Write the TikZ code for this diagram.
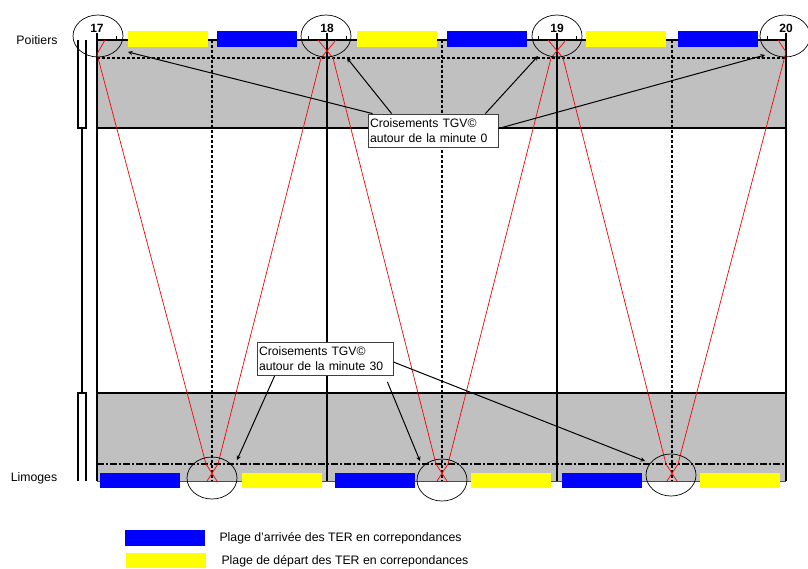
\documentclass[tikz,border=0pt]{standalone}
\usepackage{fontspec}
\setmainfont{Liberation Sans}
\usetikzlibrary{shapes.geometric}
\definecolor{plagebleu}{RGB}{0,0,255}
\definecolor{plagejaune}{RGB}{255,255,0}
\definecolor{zonegris}{RGB}{192,192,192}
\tikzset{
    heure/.style={line width=2.5pt},
    demi/.style={line width=2.5pt, dash pattern=on 3pt off 2pt},
    croix/.style={red, line width=0.7pt},
    cercle/.style={ellipse, draw, line width=0.7pt, minimum width=50pt, minimum height=42pt, inner sep=0pt},
    bulle/.style={draw=black!75, fill=white, line width=0.8pt, align=left, inner sep=2pt,
        minimum height=33pt, font=\fontsize{12.2}{15}\selectfont},
    texte/.style={font=\fontsize{12.3}{14}\selectfont}
}
\begin{document}
\begin{tikzpicture}[>=stealth, x=1pt, y=-1pt]
        \useasboundingbox (0,0) rectangle (808,568);
        % zones grises
        \fill[zonegris] (97,40) rectangle (786,128);
        \fill[zonegris] (97,393) rectangle (786,481);
        \draw[line width=2pt, dash pattern=on 3pt off 2pt] (97,58) -- (786,58);
        \draw[line width=2pt, dash pattern=on 7pt off 2pt on 2pt off 2pt] (97,464) -- (786,464);
        \draw[line width=2.5pt] (97,128) -- (786,128);
        \draw[line width=1.5pt] (97,393) -- (786,393);
        \draw[line width=1pt, black!70] (97,481) -- (786,481);
        % barre de gauche
        \draw[line width=2pt] (78,40) -- (78,128) -- (86,128) -- (86,40);
        \draw[line width=2pt] (82,128) -- (82,393);
        \draw[line width=2pt] (78,481) -- (78,393) -- (86,393) -- (86,481);
        % heures et demi-heures
        \foreach \x in {212,442,672}
        \draw[demi] (\x,40) -- (\x,481);
        \draw[line width=2.5pt] (97,40) -- (786,40);
        \foreach \h/\x in {17/97,18/327,19/557,20/786} {
            \draw[heure] (\x,33) -- (\x,481);
            \node[texte, font=\fontsize{12}{14}\bfseries, anchor=base] (h\h) at (\x,32) {\h};
        }
        \foreach \x in {116,308,346,538,576,767}
        \draw[line width=0.8pt] (\x,36) -- (\x,40);
        % trains
        \draw[croix] (105,40) -- (97,54) -- (206,464) -- (217,481);
        \draw[croix] (336,40) -- (321,58) -- (218,464) -- (207,481);
        \draw[croix] (318,40) -- (333,58) -- (436,464) -- (447,481);
        \draw[croix] (566,40) -- (551,58) -- (448,464) -- (437,481);
        \draw[croix] (548,40) -- (563,58) -- (666,464) -- (677,481);
        \draw[croix] (778,40) -- (786,52) -- (678,464) -- (667,481);
        % plages
        \foreach \x in {128,357,586}
        \fill[plagejaune] (\x,31) rectangle ++(80,16);
        \foreach \x in {217,447,678}
        \fill[plagebleu] (\x,31) rectangle ++(80,16);
        \foreach \x in {100,335,562}
        \fill[plagebleu] (\x,473) rectangle ++(80,15);
        \foreach \x in {242,471,700}
        \fill[plagejaune] (\x,473) rectangle ++(80,15);
        % croisements
        \node[cercle] (e17) at (98,36) {};
        \node[cercle] (e18) at (326,36) {};
        \node[cercle] (e19) at (557,36) {};
        \node[cercle] (e20) at (785,36) {};
        \node[cercle] (e1730) at (212,478) {};
        \node[cercle] (e1830) at (442,480) {};
        \node[cercle] (e1930) at (671,475) {};
        \node[texte] (poitiers) at (37,40) {Poitiers};
        \node[texte] (limoges) at (34,478) {Limoges};
        % bulles
        \node[bulle, text width=126pt] (c0) at (433,130.5) {Croisements TGV©\\autour de la minute 0};
        \node[bulle, text width=132pt] (c30) at (325,359) {Croisements TGV©\\autour de la minute 30};
        \coordinate (a17) at (128,52);
        \coordinate (a18) at (347,58);
        \coordinate (a19) at (538,56);
        \coordinate (a20) at (765,55);
        \coordinate (a1730) at (237,460);
        \coordinate (a1830) at (420,461);
        \coordinate (a1930) at (645,461);
        \draw[->, line width=1pt] ([xshift=5pt]c0.north west) -- (a17);
        \draw[->, line width=1pt] ([xshift=24pt]c0.north west) -- (a18);
        \draw[->, line width=1pt] ([xshift=-13pt]c0.north east) -- (a19);
        \draw[->, line width=1pt] ([yshift=2pt]c0.east) -- (a20);
        \draw[->, line width=1pt] ([xshift=18pt]c30.south west) -- (a1730);
        \draw[->, line width=1pt] ([xshift=-6pt,yshift=-6pt]c30.south east) -- (a1830);
        \draw[->, line width=1pt] ([yshift=-3pt]c30.east) -- (a1930);
        % legende
        \fill[plagebleu] (125,530) rectangle (205,546);
        \fill[plagejaune] (126,553) rectangle (206,568);
        \node[texte, anchor=west] (l1) at (216,538) {Plage d'arrivée des TER en correpondances};
        \node[texte, anchor=west] (l2) at (218,561) {Plage de départ des TER en correpondances};
    \end{tikzpicture}
\end{document}
